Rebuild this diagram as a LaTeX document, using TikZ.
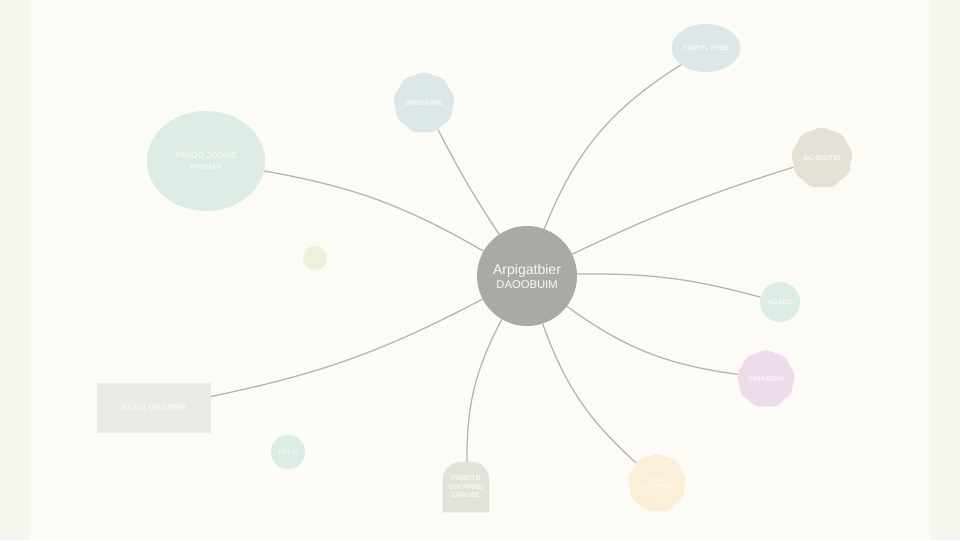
\documentclass[tikz,border=0pt]{standalone}
\usepackage{fontspec}
\setmainfont{Liberation Sans}
\usetikzlibrary{shapes.geometric,shapes.symbols,backgrounds}
\definecolor{fond}{HTML}{F6F5EE}
\definecolor{fondclair}{HTML}{FCFBF5}
\definecolor{gris}{HTML}{ABA9A4}
\definecolor{trait}{HTML}{B6B4AD}
\definecolor{menthe}{HTML}{DDECE5}
\definecolor{ciel}{HTML}{DCE7EA}
\definecolor{beige}{HTML}{E4E2D7}
\definecolor{olive}{HTML}{EEF0DC}
\definecolor{perle}{HTML}{EBEBE6}
\definecolor{rose}{HTML}{EEDCEC}
\definecolor{peche}{HTML}{FBEFD9}
\definecolor{sable}{HTML}{E2E2DA}
\definecolor{texte}{HTML}{F8F8F3}
\begin{document}
\begin{tikzpicture}[x=0.025cm,y=-0.025cm]
	\tikzstyle{lien}=[draw=trait,line width=0.9pt]
	\tikzstyle{petit}=[text=texte,font=\bfseries\fontsize{5}{6}\selectfont,align=center,inner sep=1pt]
	\tikzstyle{bulle}=[petit,circle]
	\tikzstyle{nuage}=[petit,cloud,cloud puffs=9,cloud puff arc=75,aspect=1]
	\tikzstyle{centre}=[circle,fill=gris,text=texte,minimum size=2.5cm,align=center,font=\fontsize{10}{12}\selectfont]
	% fond
	\useasboundingbox (0,0) rectangle (960,540);
	\begin{scope}[on background layer]
		\fill[fond] (0,0) rectangle (960,540);
		\fill[fondclair] (30,0) rectangle (930,540);
	\end{scope}
	% noeuds
	\node[centre] (C) at (527,276) {Arpigatbier\\[-2pt]{\fontsize{8}{9}\selectfont DAOOBUIM}};
	\node[petit,ellipse,fill=menthe,minimum width=2.95cm,minimum height=2.5cm] (E) at (206,161) {{\fontsize{6}{7}\selectfont PAYOO JODI/IS}\\[2pt]PNOMAN};
	\node[nuage,fill=ciel,minimum width=1.45cm,minimum height=1.45cm] (H) at (424,103) {BROSIUME};
	\node[petit,ellipse,fill=ciel,minimum width=1.55cm,minimum height=1.2cm] (HD) at (706,48) {FAMYK TRBE};
	\node[nuage,fill=beige,minimum width=1.5cm,minimum height=1.5cm] (D) at (822,158) {AC-IEIUTIO};
	\node[bulle,fill=olive,minimum size=0.6cm] (O) at (315,258) {};
	\node[petit,rectangle,fill=perle,minimum width=2.83cm,minimum height=1.23cm] (R) at (154,408) {{\fontsize{6}{7}\selectfont ALTIB QANOBB}};
	\node[bulle,fill=menthe,minimum size=0.85cm] (P) at (288,452) {PALU};
	\node[bulle,fill=menthe,minimum size=1.0cm] (DC) at (780,302) {ACAEO};
	\node[nuage,fill=rose,minimum width=1.25cm,minimum height=1.25cm] (DR) at (766,379) {CINAMOHI};
	\node[petit,minimum width=1.15cm,minimum height=1.25cm] (B) at (466,487) {PAROTB\\CUCHRNB\\ZAROBL};
	\node[nuage,fill=peche,minimum width=1.45cm,minimum height=1.45cm] (BD) at (657,483) {ILOL\\BOLRAE};
	\begin{scope}[on background layer]
		\fill[sable] (B.south west) -- (B.south east) [rounded corners=0.45cm] -- (B.north east) -- (B.north west) [sharp corners] -- (B.south west) -- cycle;
	\end{scope}
	% liens
	\draw[lien] (C) to[bend right=10] (E);
	\draw[lien] (C) to[bend left=3] (H);
	\draw[lien] (C) to[bend left=18] (HD);
	\draw[lien] (C) to[bend left=4] (D);
	\draw[lien] (C) to[bend left=8] (DC);
	\draw[lien] (C) to[bend right=14] (DR);
	\draw[lien] (C) to[bend right=14] (BD);
	\draw[lien] (C) to[bend right=14] (B);
	\draw[lien] (C) to[bend left=8] (R);
\end{tikzpicture}
\end{document}
